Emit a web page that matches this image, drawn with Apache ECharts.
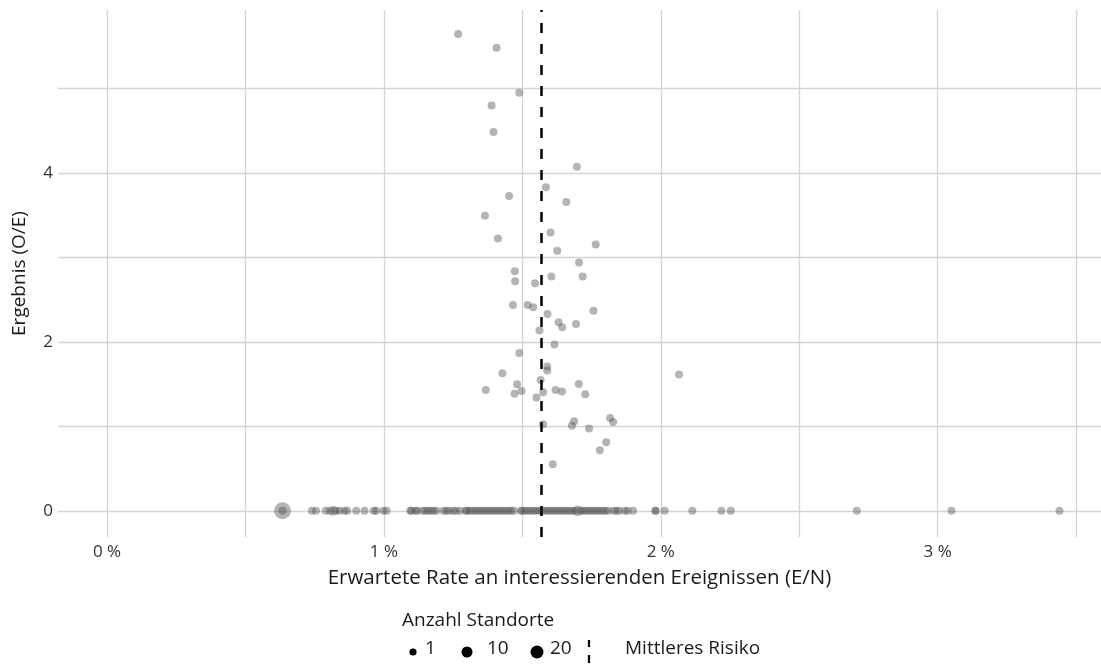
<!DOCTYPE html>
<html><head><meta charset="utf-8">
<script src="https://cdn.jsdelivr.net/npm/echarts@6/dist/echarts.min.js"></script>
<style>html,body{margin:0;padding:0;background:#fff}#c{width:1101px;height:669px}</style>
</head><body><div id="c"></div>
<script>
// Points with outcome > 0 : expected rate (%), O/E
const upperX = [1.268,1.407,1.489,1.389,1.396,1.697,1.585,1.452,1.659,1.365,1.602,1.412,1.765,1.626,1.705,1.473,1.605,1.718,1.474,1.546,1.466,1.519,1.539,1.757,1.591,1.631,1.694,1.644,1.562,1.616,1.489,1.590,1.590,1.428,2.066,1.566,1.481,1.704,1.368,1.497,1.472,1.575,1.620,1.643,1.727,1.551,1.817,1.828,1.687,1.679,1.575,1.741,1.803,1.780,1.610];
const upperY = [5.645,5.483,4.950,4.800,4.485,4.075,3.830,3.728,3.657,3.495,3.294,3.223,3.152,3.080,2.940,2.836,2.773,2.773,2.718,2.694,2.438,2.438,2.410,2.370,2.331,2.233,2.213,2.174,2.134,1.968,1.870,1.708,1.660,1.629,1.613,1.550,1.499,1.503,1.432,1.420,1.385,1.405,1.432,1.412,1.381,1.341,1.100,1.053,1.061,1.006,1.026,0.974,0.813,0.718,0.552];
// Points with outcome = 0 : expected rate (%) and number of sites
const zeroX = [0.634,0.634,0.740,0.755,0.790,0.805,0.817,0.827,0.840,0.858,0.868,0.900,0.930,0.963,0.972,0.998,1.010,
  1.095,1.100,1.115,1.120,1.140,1.150,1.160,1.170,1.180,1.190,1.215,1.225,1.235,1.250,1.260,1.275,1.295,1.300,1.310,1.320,1.330,1.340,1.350,1.360,1.370,1.380,1.390,1.400,1.410,1.420,1.430,1.440,1.450,1.460,1.470,1.495,1.500,1.510,1.520,1.530,1.540,1.550,1.560,1.570,1.580,1.590,1.600,1.610,1.620,1.630,1.640,1.650,1.660,1.670,1.680,1.690,1.700,1.710,1.720,1.730,1.740,1.750,1.760,1.770,1.780,1.790,1.800,1.810,1.830,1.840,1.850,1.870,1.880,1.900,1.980,1.982,2.014,2.114,2.219,2.253,2.708,3.050,3.440];
const zeroN = [30,1,1,1,1,1,3,1,1,1,1,1,1,1,1,1,1,
  1,1,1,1,1,1,1,1,1,1,1,1,1,1,1,1,1,1,1,1,1,1,1,1,1,1,1,1,1,1,1,1,1,1,1,1,1,1,1,1,1,1,1,1,1,1,1,1,1,1,1,1,1,1,1,1,5,1,1,1,1,1,1,1,1,1,1,1,1,1,1,1,1,1,1,1,1,1,1,1,1,1,1];
const meanRisk = [1.57];
const xTicks = [0,0.5,1,1.5,2,2.5,3,3.5];
const xLabels = [0,1,2,3];
const yTicks = [0,1,2,3,4,5];
const yLabels = [0,2,4];
const legendSizes = [1,10,20];

const FONT = 'Open Sans';
const sizeOf = n => 6 + 2*Math.sqrt(n);

const pts = [];
upperX.forEach((x,i)=>pts.push([x, upperY[i], 1]));
zeroX.forEach((x,i)=>pts.push([x, 0, zeroN[i]]));

const chart = echarts.init(document.getElementById('c'), null, {renderer:'canvas'});
chart.setOption({
  animation:false,
  backgroundColor:'#fff',
  grid:{left:58,right:0,top:10,bottom:132,containLabel:false,outerBoundsMode:'none'},
  xAxis:{type:'value',min:-0.177,max:3.59,
    name:'Erwartete Rate an interessierenden Ereignissen (E/N)',nameLocation:'middle',nameGap:31,
    nameTextStyle:{fontFamily:FONT,fontSize:20.5,color:'#1a1a1a'},
    axisLine:{show:false},
    axisTick:{show:false,customValues:xTicks},
    axisLabel:{customValues:xLabels,formatter:v=>v+' %',fontFamily:FONT,fontSize:17,color:'#333',margin:7},
    splitLine:{show:true,lineStyle:{color:'#d4d4d4',width:1.3}}},
  yAxis:{type:'value',min:-0.31,max:5.93,
    name:'Ergebnis (O/E)',nameLocation:'middle',nameGap:29,nameRotate:90,
    nameTextStyle:{fontFamily:FONT,fontSize:19,color:'#1a1a1a'},
    axisLine:{show:false},
    axisTick:{show:false,customValues:yTicks},
    axisLabel:{customValues:yLabels,fontFamily:FONT,fontSize:17,color:'#333',margin:5},
    splitLine:{show:true,lineStyle:{color:'#d4d4d4',width:1.3}}},
  series:[{
    type:'scatter',data:pts,
    symbolSize:d=>sizeOf(d[2]),
    itemStyle:{color:'#4d4d4d',opacity:0.42},
    markLine:{silent:true,symbol:'none',label:{show:false},
      lineStyle:{color:'#000',width:2.5,type:[10,11],opacity:1},
      data:meanRisk.map(v=>({xAxis:v}))}
  }],
  graphic:[
    {type:'text',left:402,top:611,style:{text:'Anzahl Standorte',fontFamily:FONT,fontSize:19,fill:'#1a1a1a'}},
    {type:'circle',shape:{cx:413,cy:652,r:3.6},style:{fill:'#000'}},
    {type:'text',left:425,top:639,style:{text:String(legendSizes[0]),fontFamily:FONT,fontSize:19,fill:'#1a1a1a'}},
    {type:'circle',shape:{cx:467,cy:652,r:5.5},style:{fill:'#000'}},
    {type:'text',left:487,top:639,style:{text:String(legendSizes[1]),fontFamily:FONT,fontSize:19,fill:'#1a1a1a'}},
    {type:'circle',shape:{cx:537,cy:652,r:6.5},style:{fill:'#000'}},
    {type:'text',left:550,top:639,style:{text:String(legendSizes[2]),fontFamily:FONT,fontSize:19,fill:'#1a1a1a'}},
    {type:'line',shape:{x1:589,y1:640,x2:589,y2:647},style:{stroke:'#000',lineWidth:2.2}},
    {type:'line',shape:{x1:589,y1:655,x2:589,y2:663},style:{stroke:'#000',lineWidth:2.2}},
    {type:'text',left:625,top:639,style:{text:'Mittleres Risiko',fontFamily:FONT,fontSize:19,fill:'#1a1a1a'}}
  ]
});
</script></body></html>
